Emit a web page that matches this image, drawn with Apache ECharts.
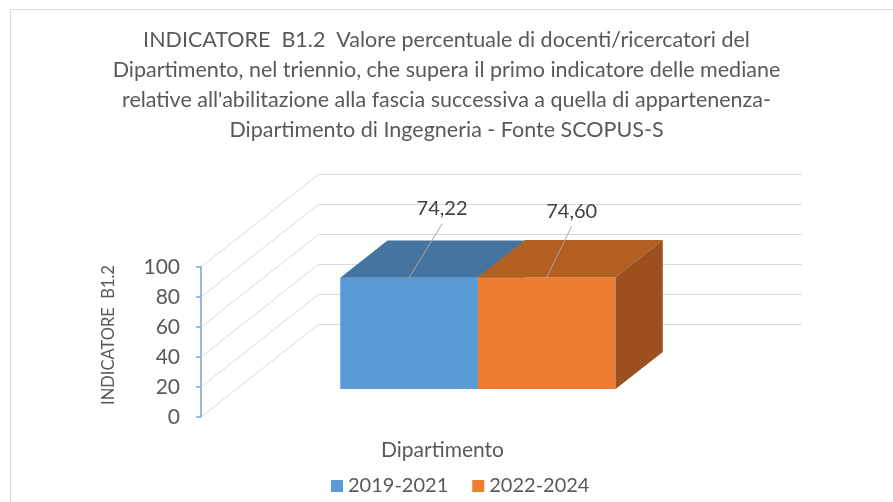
<!DOCTYPE html>
<html lang="it">

<head>
    <meta charset="UTF-8">
    <title>Indicatore B1.2</title>
    <style>
        html, body {
            margin: 0;
            padding: 0;
            background: #fff;
        }

        #main {
            width: 893px;
            height: 502px;
        }
    </style>
    <script src="https://cdn.jsdelivr.net/npm/echarts@6/dist/echarts.min.js"></script>
</head>

<body>
    <div id="main"></div>
    <script>
        // dati
        const categories = ['Dipartimento'];
        const periods = ['2019-2021', '2022-2024'];
        const values2019 = [74.22];
        const values2022 = [74.60];
        const yTicks = [0, 20, 40, 60, 80, 100];

        const titleText = 'INDICATORE  B1.2  Valore percentuale di docenti/ricercatori del\n' +
            'Dipartimento, nel triennio, che supera il primo indicatore delle mediane\n' +
            'relative all\'abilitazione alla fascia successiva a quella di appartenenza-\n' +
            'Dipartimento di Ingegneria - Fonte SCOPUS-S';

        const FONT = 'Lato';
        const TEXT = '#595959';
        const GRIDLINE = '#d9d9d9';
        // profondità della "scatola" 3D (spostamento della parete di fondo)
        const DEPTH = [118, -93];
        const FRONT = 0.3, BACK = 0.7;

        const faceColors = [
            { front: '#5B9BD5', top: '#44749F', side: '#3F6D96' },
            { front: '#ED7D31', top: '#B45F22', side: '#9B501E' }
        ];

        const chart = echarts.init(document.getElementById('main'));

        function fmt(v) {
            return v.toFixed(2).replace('.', ',');
        }

        function wallItem(params, api) {
            const cs = params.coordSys;
            const p = api.coord([0, api.value(0)]);
            return {
                type: 'line',
                shape: { x1: cs.x, y1: p[1], x2: cs.x + DEPTH[0], y2: p[1] + DEPTH[1] },
                style: { stroke: GRIDLINE, lineWidth: 1 }
            };
        }

        function barItem(idx) {
            return function (params, api) {
                const base = api.coord([api.value(0), 0]);
                const top = api.coord([api.value(0), api.value(1)]);
                const band = api.size([1, 0])[0];
                const w = band * 0.285;
                const fx = DEPTH[0] * FRONT, fy = DEPTH[1] * FRONT;
                const dx = DEPTH[0] * (BACK - FRONT), dy = DEPTH[1] * (BACK - FRONT);
                const x0 = base[0] - w + idx * w + fx;
                const x1 = x0 + w;
                const yb = base[1] + fy;
                const yt = top[1] + fy;
                const c = faceColors[idx];
                const cx = (x0 + x1) / 2;
                const lx = cx + (idx === 0 ? 33 : 25);
                const ly = yt + (idx === 0 ? -69 : -66);
                return {
                    type: 'group',
                    children: [
                        {
                            type: 'rect',
                            shape: { x: x0, y: yt, width: w, height: yb - yt },
                            style: { fill: c.front }
                        },
                        {
                            type: 'polygon',
                            shape: { points: [[x0, yt], [x1, yt], [x1 + dx, yt + dy], [x0 + dx, yt + dy]] },
                            style: { fill: c.top }
                        },
                        {
                            type: 'polygon',
                            shape: { points: [[x1, yt], [x1 + dx, yt + dy], [x1 + dx, yb + dy], [x1, yb]] },
                            style: { fill: c.side }
                        },
                        {
                            type: 'line',
                            shape: { x1: cx, y1: yt, x2: lx, y2: ly + 15 },
                            style: { stroke: '#a6a6a6', lineWidth: 1 }
                        },
                        {
                            type: 'text',
                            x: lx,
                            y: ly,
                            style: {
                                text: fmt(api.value(1)),
                                fill: '#404040',
                                font: '20px ' + FONT,
                                align: 'center',
                                verticalAlign: 'middle'
                            }
                        }
                    ]
                };
            };
        }

        const option = {
            backgroundColor: '#fff',
            animation: false,
            textStyle: { fontFamily: FONT },
            title: {
                text: titleText,
                left: 'center',
                top: 20,
                textStyle: {
                    fontFamily: FONT,
                    fontSize: 21.5,
                    fontWeight: 'normal',
                    color: TEXT,
                    lineHeight: 30
                }
            },
            graphic: [{
                type: 'rect',
                shape: { x: 10.5, y: 9.5, width: 900, height: 520 },
                style: { fill: 'none', stroke: GRIDLINE, lineWidth: 1 },
                silent: true
            }],
            legend: {
                data: periods,
                left: 326,
                top: 471,
                icon: 'rect',
                itemWidth: 12,
                itemHeight: 12,
                itemGap: 24,
                textStyle: { fontFamily: FONT, fontSize: 20, color: TEXT }
            },
            grid: [
                { left: 201, top: 267, width: 483, height: 150 },
                { left: 201 + DEPTH[0], top: 267 + DEPTH[1], width: 483, height: 150 }
            ],
            xAxis: [
                {
                    type: 'category',
                    gridIndex: 0,
                    data: categories,
                    axisLine: { show: false },
                    axisTick: { show: false },
                    axisLabel: { fontFamily: FONT, fontSize: 21, color: TEXT, margin: 23 }
                },
                { type: 'category', gridIndex: 1, data: categories, show: false }
            ],
            yAxis: [
                {
                    type: 'value',
                    gridIndex: 0,
                    min: 0,
                    max: 100,
                    interval: 20,
                    name: 'INDICATORE  B1.2',
                    nameLocation: 'middle',
                    nameRotate: 90,
                    nameGap: 84,
                    nameTextStyle: { fontFamily: FONT, fontSize: 16.5, color: TEXT, padding: [0, 0, 0, 14] },
                    axisLine: { show: true, lineStyle: { color: '#6FA3DA', width: 1.5 } },
                    axisTick: { show: true, length: 5, lineStyle: { color: '#6FA3DA', width: 1.5 } },
                    axisLabel: { fontFamily: FONT, fontSize: 21, color: TEXT, margin: 21 },
                    splitLine: { show: false }
                },
                {
                    type: 'value',
                    gridIndex: 1,
                    min: 0,
                    max: 100,
                    interval: 20,
                    axisLine: { show: false },
                    axisTick: { show: false },
                    axisLabel: { show: false },
                    splitLine: { show: true, lineStyle: { color: GRIDLINE, width: 1 } }
                }
            ],
            series: [
                {
                    name: 'pareti',
                    type: 'custom',
                    xAxisIndex: 0,
                    yAxisIndex: 0,
                    silent: true,
                    z: 1,
                    renderItem: wallItem,
                    data: yTicks.map(v => [v])
                },
                {
                    name: periods[0],
                    type: 'custom',
                    xAxisIndex: 0,
                    yAxisIndex: 0,
                    z: 3,
                    itemStyle: { color: faceColors[0].front },
                    renderItem: barItem(0),
                    encode: { x: 0, y: 1 },
                    data: values2019.map((v, i) => [i, v])
                },
                {
                    name: periods[1],
                    type: 'custom',
                    xAxisIndex: 0,
                    yAxisIndex: 0,
                    z: 4,
                    itemStyle: { color: faceColors[1].front },
                    renderItem: barItem(1),
                    encode: { x: 0, y: 1 },
                    data: values2022.map((v, i) => [i, v])
                }
            ]
        };

        chart.setOption(option);
    </script>
</body>

</html>
